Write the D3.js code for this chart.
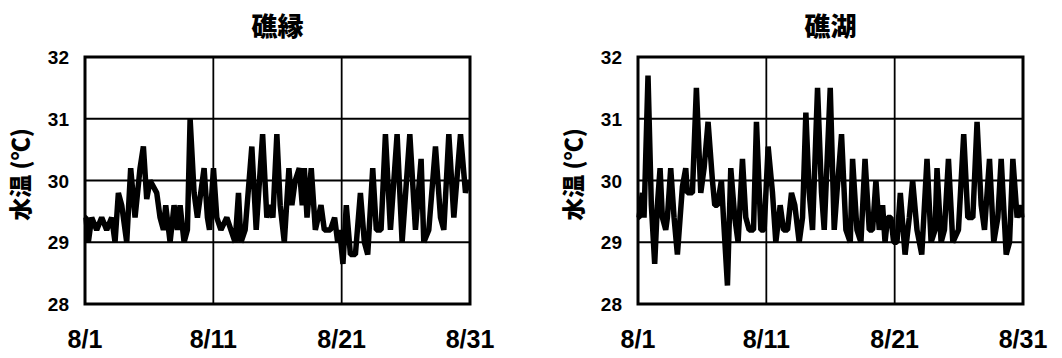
<!DOCTYPE html>
<html>
<head>
<meta charset="utf-8">
<script src="https://cdn.jsdelivr.net/npm/d3@7"></script>
<style>
  body { margin: 0; background: #fff; }
  svg { display: block; }
</style>
</head>
<body>
<script>
// water temperature, Aug 1 - Aug 31, two stations

let w = 1062
let h = 358

let titles = ["礁縁", "礁湖"]
let yTicks = [28, 29, 30, 31, 32]
let xTicks = [1, 11, 21, 31]
let xTickLabels = ["8/1", "8/11", "8/21", "8/31"]
let yTitle = "水温 (℃)"

// 礁縁 (day of August, °C)
let edgeDays = [1.0, 1.08, 1.26, 1.52, 1.91, 2.30, 2.69, 3.08, 3.34, 3.60, 3.86, 4.25, 4.56, 4.90, 5.29, 5.55,
  5.81, 6.07, 6.59, 6.85, 7.11, 7.29, 7.63, 7.94, 8.20, 8.41, 8.72, 8.98, 9.19, 9.50, 9.76, 10.28,
  10.54, 10.70, 11.01, 11.27, 11.59, 12.05, 12.37, 12.70, 12.96, 13.15, 13.48, 14.0, 14.34, 14.84,
  15.17, 15.43, 15.64, 15.95, 16.21, 16.53, 16.89, 17.12, 17.38, 17.70, 17.93, 18.09, 18.30, 18.63,
  18.95, 19.39, 19.65, 20.12, 20.45, 20.69, 20.84, 21.10, 21.36, 21.68, 22.07, 22.46, 22.77, 23.03,
  23.42, 23.70, 24.07, 24.41, 24.80, 25.32, 25.71, 26.31, 26.75, 27.19, 27.40, 27.79, 28.31, 28.70,
  28.96, 29.35, 29.74, 30.26, 30.65, 30.85]
let edgeTemps = [29.4, 29.4, 29.0, 29.4, 29.2, 29.4, 29.2, 29.4, 29.0, 29.8, 29.6, 29.0, 30.2, 29.4, 30.2, 30.55,
  29.7, 30.0, 29.8, 29.4, 29.2, 29.6, 29.0, 29.6, 29.2, 29.6, 29.0, 29.2, 31.0, 29.8, 29.4, 30.2,
  29.4, 29.2, 30.2, 29.4, 29.2, 29.4, 29.2, 29.0, 29.8, 29.0, 29.2, 30.55, 29.2, 30.75,
  29.4, 29.6, 29.4, 30.75, 29.6, 29.0, 30.2, 29.6, 30.0, 30.2, 29.6, 30.2, 29.4, 30.2,
  29.2, 29.6, 29.2, 29.2, 29.4, 29.0, 29.2, 28.65, 29.6, 28.8, 28.8, 29.8, 29.0, 28.8,
  30.2, 29.2, 29.2, 30.75, 29.2, 30.75, 29.0, 30.75, 29.2, 30.35, 29.0, 29.2, 30.55, 29.4,
  29.2, 30.75, 29.4, 30.75, 29.8, 30.0]

// 礁湖 (day of August, °C)
let lagoonDays = [1.0, 1.08, 1.34, 1.47, 1.78, 2.04, 2.30, 2.51, 2.72, 2.90, 3.16, 3.29, 3.55, 3.81, 4.07, 4.46,
  4.72, 4.85, 5.24, 5.55, 5.89, 6.15, 6.46, 6.80, 6.98, 7.19, 7.50, 7.66, 7.97, 8.23, 8.54, 8.80,
  9.14, 9.40, 9.66, 10.0, 10.23, 10.57, 10.83, 11.14, 11.48, 11.74, 12.08, 12.34, 12.65, 12.96,
  13.22, 13.56, 13.82, 14.08, 14.34, 14.60, 14.99, 15.30, 15.51, 15.98, 16.29, 16.50, 16.86, 17.20,
  17.54, 17.72, 18.06, 18.37, 18.69, 19.02, 19.28, 19.54, 19.80, 20.06, 20.25, 20.45, 20.71, 20.92,
  21.18, 21.44, 21.81, 22.14, 22.40, 22.74, 23.11, 23.52, 23.84, 24.15, 24.30, 24.62, 24.88, 25.19,
  25.53, 25.97, 26.38, 26.70, 27.09, 27.42, 27.74, 28.0, 28.39, 28.72, 29.04, 29.30, 29.69, 29.95,
  30.21, 30.54, 30.80, 30.91]
let lagoonTemps = [29.4, 29.4, 29.8, 29.4, 31.7, 29.6, 28.65, 29.6, 30.2, 29.4, 29.2, 29.4, 30.2, 29.4, 28.8, 29.9,
  30.2, 29.8, 29.8, 31.5, 29.8, 30.2, 30.95, 30.0, 29.6, 29.6, 30.0, 29.4, 28.3, 30.2, 29.4, 29.0,
  30.35, 29.4, 29.2, 29.2, 30.95, 29.2, 29.2, 30.55, 29.8, 29.0, 29.6, 29.2, 29.2, 29.8,
  29.6, 29.0, 29.4, 31.1, 29.8, 29.2, 31.5, 29.8, 29.2, 31.5, 29.2, 29.8, 30.75, 29.2,
  29.0, 30.35, 29.2, 29.0, 30.35, 29.2, 29.2, 30.0, 29.2, 29.6, 29.0, 29.4, 29.4, 29.0,
  29.0, 29.8, 28.8, 29.4, 30.0, 29.2, 28.8, 30.35, 29.0, 29.2, 30.2, 29.0, 29.2, 30.35,
  29.0, 29.2, 30.75, 29.4, 29.4, 30.95, 29.6, 29.2, 30.35, 29.0, 29.4, 30.35, 28.8, 29.0,
  30.35, 29.4, 29.6, 29.4]

let panels = [
  { title: titles[0], days: edgeDays, temps: edgeTemps, left: 85 },
  { title: titles[1], days: lagoonDays, temps: lagoonTemps, left: 638 }
]

let plotTop = 57
let pw = 385
let ph = 247

let svg = d3.select("body")
  .append("svg")
  .attr("width", w)
  .attr("height", h)

panels.forEach(p => {
  let x = d3.scaleLinear().domain([1, 31]).range([p.left, p.left + pw])
  let y = d3.scaleLinear().domain([28, 32]).range([plotTop + ph, plotTop])

  let g = svg.append("g")

  // grid lines
  g.selectAll(".hgrid")
    .data(yTicks)
    .enter()
    .append("line")
      .attr("x1", p.left).attr("x2", p.left + pw)
      .attr("y1", d => y(d)).attr("y2", d => y(d))
      .attr("stroke", "#000")
      .attr("stroke-width", 1.8)

  g.selectAll(".vgrid")
    .data(xTicks)
    .enter()
    .append("line")
      .attr("x1", d => x(d)).attr("x2", d => x(d))
      .attr("y1", plotTop).attr("y2", plotTop + ph)
      .attr("stroke", "#000")
      .attr("stroke-width", 1.8)

  // series
  let line = d3.line()
    .x((d, i) => x(p.days[i]))
    .y(d => y(d))

  g.append("path")
    .datum(p.temps)
    .attr("d", line)
    .attr("fill", "none")
    .attr("stroke", "#000")
    .attr("stroke-width", 5.5)
    .attr("stroke-linejoin", "bevel")

  // frame
  g.append("rect")
    .attr("x", p.left).attr("y", plotTop)
    .attr("width", pw).attr("height", ph)
    .attr("fill", "none")
    .attr("stroke", "#000")
    .attr("stroke-width", 3)

  // tick labels
  g.selectAll(".ylab")
    .data(yTicks)
    .enter()
    .append("text")
      .text(d => d)
      .attr("x", p.left - 16)
      .attr("y", d => y(d) + 7)
      .attr("text-anchor", "end")
      .attr("font-family", "Liberation Sans, Arial, sans-serif")
      .attr("font-weight", "bold")
      .attr("font-size", "19px")

  g.selectAll(".xlab")
    .data(xTicks)
    .enter()
    .append("text")
      .text((d, i) => xTickLabels[i])
      .attr("x", d => x(d))
      .attr("y", 348)
      .attr("text-anchor", "middle")
      .attr("font-family", "Liberation Sans, Arial, sans-serif")
      .attr("font-weight", "bold")
      .attr("font-size", "25px")

  // titles
  g.append("text")
    .text(p.title)
    .attr("x", p.left + pw / 2)
    .attr("y", 36)
    .attr("text-anchor", "middle")
    .attr("font-family", "Noto Sans CJK JP, sans-serif")
    .attr("font-weight", "900")
    .attr("font-size", "26px")

  g.append("text")
    .text(yTitle)
    .attr("transform", `translate(${p.left - 56},${plotTop + ph / 2 - 6}) rotate(-90)`)
    .attr("text-anchor", "middle")
    .attr("font-family", "Noto Sans CJK JP, sans-serif")
    .attr("font-weight", "900")
    .attr("font-size", "23px")
})
</script>
</body>
</html>
